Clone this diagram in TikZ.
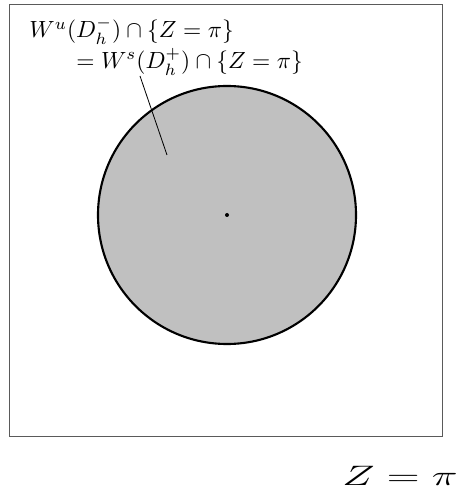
\documentclass[tikz,border=0pt]{standalone}
\usepackage{amsmath,amssymb}
\usepackage{graphicx}
\usepackage{tikz}
\usetikzlibrary{positioning, calc}
\usepackage{xcolor}
\definecolor{diskgray}{RGB}{192, 192, 192}
\definecolor{framegray}{RGB}{90, 90, 90}

\begin{document}
\begin{tikzpicture}[
    x=0.015cm, y=-0.015cm,
    frame/.style={draw=framegray, line width=0.4pt},
    disk/.style={circle, draw=black, fill=diskgray, line width=0.9pt, minimum size=258*0.015cm, inner sep=0},
    point/.style={circle, fill=black, minimum size=0.06cm, inner sep=0},
    leader/.style={line width=0.35pt}
]
    \useasboundingbox (0,0) rectangle (475,495);

    % Section frame
    \draw[frame] (9,4) rectangle (442,436);

    % Disk and its centre
    \node[disk] (disk) at (227,215) {};
    \node[point] (centre) at (disk.center) {};

    % Label with leader line
    \node[anchor=north west, inner sep=0, align=left] (label) at (29,17)
        {$W^u(D_h^-)\cap\{Z=\pi\}$\\[1pt]\hspace*{2em}$= W^s(D_h^+)\cap\{Z=\pi\}$};
    \coordinate (tip) at (167,155);
    \coordinate (foot) at (140,76);
    \draw[leader] (foot) -- (tip);

    % Section name
    \node (plane) at (400,476) {\scalebox{1.55}[1]{\large$Z = \pi$}};
\end{tikzpicture}
\end{document}
